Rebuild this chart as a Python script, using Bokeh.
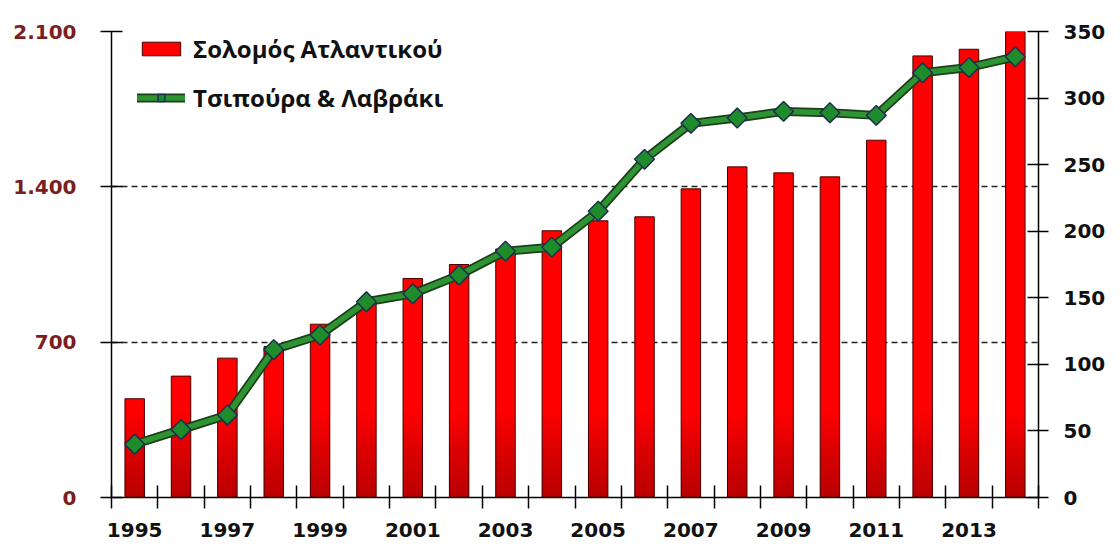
import math
from bokeh.plotting import figure
from bokeh.models import Range1d, LinearAxis, FixedTicker, Legend, LegendItem
from bokeh.embed import file_html
from bokeh.resources import INLINE

# ---- data ----
years = list(range(1995, 2015))
salmon = [445, 547, 628, 680, 781, 875, 987, 1050, 1120, 1202,
          1247, 1265, 1391, 1490, 1463, 1445, 1610, 1990, 2020, 2100]
bream = [40, 51, 62, 111, 122, 147, 153, 167, 185, 188,
         215, 254, 281, 285, 290, 289, 287, 319, 323, 331]
left_ticks = [0, 700, 1400, 2100]
left_labels = ["0", "700", "1.400", "2.100"]
right_ticks = [0, 50, 100, 150, 200, 250, 300, 350]
x_label_years = [1995, 1997, 1999, 2001, 2003, 2005, 2007, 2009, 2011, 2013]
name_salmon = "Σολομός Ατλαντικού"
name_bream = "Τσιπούρα & Λαβράκι"

FONT = "DejaVu Sans"

p = figure(width=1108, height=545,
           x_range=Range1d(1994.5, 2014.5), y_range=Range1d(0, 2100),
           output_backend="svg", toolbar_location=None,
           min_border_left=111, min_border_top=31, min_border_right=67,
           min_border_bottom=48)
p.extra_y_ranges = {"right": Range1d(0, 350)}
p.outline_line_color = None
p.background_fill_color = "white"
p.border_fill_color = "white"

bars = p.vbar(x=years, top=salmon, width=0.42, fill_color="#FF0000",
              line_color="#4A0000", line_width=1)

# darker shading toward the base of each bar (imitates the gradient fill)
shade_steps = 12
shade_span = 380
for k in range(1, shade_steps + 1):
    lim = shade_span * k / shade_steps
    p.vbar(x=years, top=[min(v, lim) for v in salmon], width=0.42,
           fill_color="#000000", fill_alpha=0.022, line_color=None)

l_dark = p.line(years, bream, y_range_name="right", line_width=9,
                line_color="#1B3F1B", line_join="round", line_cap="round")
l_main = p.line(years, bream, y_range_name="right", line_width=5.5,
                line_color="#2E9432", line_join="round", line_cap="round")
marks = p.scatter(years, bream, y_range_name="right", marker="square",
                  angle=math.pi / 4, size=14, fill_color="#1E8C2A",
                  line_color="#1F2F4F", line_width=1.5)

# x axis
xa = p.xaxis[0]
xa.ticker = FixedTicker(ticks=years,
                        minor_ticks=[y - 0.5 for y in years] + [years[-1] + 0.5])
xa.major_label_overrides = {y: (str(y) if y in x_label_years else "") for y in years}
xa.major_tick_line_color = None
xa.major_tick_in = 0
xa.major_tick_out = 11
xa.minor_tick_in = 12
xa.minor_tick_out = 11
xa.minor_tick_line_color = "black"
xa.minor_tick_line_width = 1.5
xa.axis_line_width = 1.5
xa.axis_line_color = "black"
xa.major_label_standoff = 14
xa.major_label_text_font = FONT
xa.major_label_text_font_style = "bold"
xa.major_label_text_font_size = "20px"
xa.major_label_text_color = "#111111"

# left axis
ya = p.yaxis[0]
ya.ticker = FixedTicker(ticks=left_ticks)
ya.major_label_overrides = dict(zip(left_ticks, left_labels))
ya.major_tick_in = 11
ya.major_tick_out = 11
ya.minor_tick_line_color = None
ya.axis_line_width = 1.5
ya.major_tick_line_width = 1.5
ya.major_label_standoff = 24
ya.major_label_text_font = FONT
ya.major_label_text_font_style = "bold"
ya.major_label_text_font_size = "20px"
ya.major_label_text_color = "#7A1E1E"

# right axis
ra = LinearAxis(y_range_name="right", ticker=FixedTicker(ticks=right_ticks))
ra.major_tick_in = 11
ra.major_tick_out = 10
ra.minor_tick_line_color = None
ra.axis_line_width = 1.5
ra.major_tick_line_width = 1.5
ra.major_label_standoff = 15
ra.major_label_text_font = FONT
ra.major_label_text_font_style = "bold"
ra.major_label_text_font_size = "20px"
ra.major_label_text_color = "#111111"
p.add_layout(ra, "right")

# grid
p.xgrid.grid_line_color = None
p.ygrid.ticker = FixedTicker(ticks=left_ticks)
p.ygrid.grid_line_color = "#222222"
p.ygrid.grid_line_dash = "6 4"
p.ygrid.grid_line_width = 1.3

legend = Legend(items=[LegendItem(label=name_salmon, renderers=[bars]),
                       LegendItem(label=name_bream, renderers=[l_dark, l_main, marks])],
                location=(26, 383), orientation="vertical",
                glyph_width=48, glyph_height=17, label_standoff=8,
                spacing=16, padding=0, margin=0,
                label_text_font="Open Sans", label_text_font_style="bold",
                label_text_font_size="24px", label_text_color="#111111",
                background_fill_alpha=0, border_line_color=None)
p.add_layout(legend)

open("out.html", "w").write(file_html(p, INLINE))
